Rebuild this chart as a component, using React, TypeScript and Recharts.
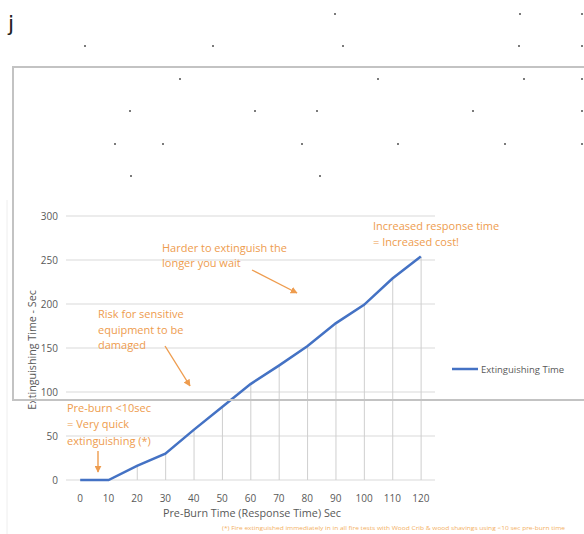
import React from 'react';
import {
  ComposedChart,
  Line,
  Bar,
  XAxis,
  YAxis,
  CartesianGrid,
  Legend,
} from 'recharts';

const preBurn = ['0', '10', '20', '30', '40', '50', '60', '70', '80', '90', '100', '110', '120'];
const extinguishing = [0, 0, 16, 30, 57, 83, 109, 130, 152, 178, 199, 229, 254];
const yTicks = [0, 50, 100, 150, 200, 250, 300];

const chartData = preBurn.map((p, i) => ({ preBurn: p, time: extinguishing[i] }));

const FONT = '"Open Sans", "Noto Sans", sans-serif';
const ORANGE = '#EE9C4E';
const BLUE = '#4472C4';
const GREY_TEXT = '#595959';

// stray dots in the top part of the page
const strayDots = [
  [335, 14], [520, 14], [582, 14],
  [85, 46], [213, 46], [343, 46], [519, 46], [582, 46],
  [180, 79], [378, 79], [524, 79], [582, 79],
  [130, 111], [255, 111], [317, 111], [473, 111], [582, 111],
  [115, 144], [163, 144], [302, 144], [398, 144], [505, 144], [582, 144],
  [131, 176], [320, 176],
];

const renderLegend = (props: any) => {
  const item = (props.payload || []).find((p: any) => p.dataKey === 'time' && p.type === 'line');
  if (!item) return null;
  return (
    <svg width={130} height={14} style={{ display: 'block' }}>
      <line x1={0} y1={7} x2={26} y2={7} stroke={BLUE} strokeWidth={2.5} />
      <text x={29} y={10.5} fontSize={9.5} fill={GREY_TEXT} fontFamily={FONT}>
        {item.value}
      </text>
    </svg>
  );
};

const App: React.FC = () => {
  return (
    <div style={{ position: 'absolute', left: 0, top: 0, width: 584, height: 534 }}>
      <ComposedChart
        width={584}
        height={534}
        data={chartData}
        margin={{ top: 216, right: 149, bottom: 10, left: 0 }}
        style={{ fontFamily: FONT }}
      >
        <CartesianGrid vertical={false} stroke="#d9d9d9" />
        <XAxis
          dataKey="preBurn"
          axisLine={false}
          tickLine={false}
          tickSize={0}
          tickMargin={15}
          tick={{ fill: GREY_TEXT, fontSize: 10 }}
          height={30}
        />
        <YAxis
          width={66}
          domain={[0, 300]}
          ticks={yTicks}
          axisLine={false}
          tickLine={false}
          tick={{ fill: GREY_TEXT, fontSize: 10 }}
        />
        <Bar
          dataKey="time"
          barSize={1}
          fill="#cfcfcf"
          isAnimationActive={false}
          legendType="none"
        />
        <Line
          type="linear"
          dataKey="time"
          name="Extinguishing Time"
          stroke={BLUE}
          strokeWidth={2.5}
          dot={false}
          activeDot={false}
          isAnimationActive={false}
        />
        <Legend
          content={renderLegend}
          wrapperStyle={{ position: 'absolute', left: 452, top: 362, width: 130 }}
        />
      </ComposedChart>

      <svg
        width={584}
        height={534}
        style={{ position: 'absolute', left: 0, top: 0, pointerEvents: 'none' }}
        fontFamily={FONT}
      >
        <defs>
          <marker id="arrowHead" viewBox="0 0 10 10" refX="9" refY="5" markerWidth="5" markerHeight="5" orient="auto">
            <path d="M0,0 L10,5 L0,10 z" fill={ORANGE} />
          </marker>
        </defs>

        <line x1={7} y1={200} x2={7} y2={534} stroke="#eeeeee" strokeWidth={1} />

        <text x={8} y={31} fontSize={22} fill="#222" fontFamily='"DejaVu Sans", sans-serif'>j</text>
        {strayDots.map(([x, y], i) => (
          <rect key={i} x={x - 0.8} y={y - 0.8} width={1.6} height={1.6} fill="#333" />
        ))}

        {/* axis titles */}
        <text x={252} y={517} fontSize={10.8} fill={GREY_TEXT} textAnchor="middle">
          Pre-Burn Time (Response Time) Sec
        </text>
        <text
          x={36}
          y={350}
          fontSize={10.7}
          fill={GREY_TEXT}
          textAnchor="middle"
          transform="rotate(-90 36 350)"
        >
          Extinguishing Time - Sec
        </text>

        {/* annotations */}
        <g fontSize={11} fill={ORANGE}>
          <text x={162} y={252}>Harder to extinguish the</text>
          <text x={162} y={267}>longer you wait</text>
          <text x={98} y={318}>Risk for sensitive</text>
          <text x={98} y={334}>equipment to be</text>
          <text x={98} y={349}>damaged</text>
          <text x={373} y={230}>Increased response time</text>
          <text x={373} y={246}>= Increased cost!</text>
          <text x={67} y={412}>Pre-burn &lt;10sec</text>
          <text x={67} y={428}>= Very quick</text>
          <text x={67} y={445}>extinguishing (*)</text>
        </g>
        <g stroke={ORANGE} strokeWidth={1.4} markerEnd="url(#arrowHead)">
          <line x1={252} y1={270} x2={297} y2={293} />
          <line x1={165} y1={346} x2={190} y2={386} />
          <line x1={98} y1={451} x2={98} y2={472} />
        </g>
        <text x={222} y={530} fontSize={6} fill="#F3B05F" textLength={343} lengthAdjust="spacingAndGlyphs">
          (*) Fire extinguished immediately in in all fire tests with Wood Crib &amp; wood shavings using &lt;10 sec pre-burn time
        </text>

        {/* overlapping frame */}
        <rect x={13} y={67} width={600} height={333} fill="none" stroke="#c3c3c3" strokeWidth={2} />
      </svg>
    </div>
  );
};

export default App;
